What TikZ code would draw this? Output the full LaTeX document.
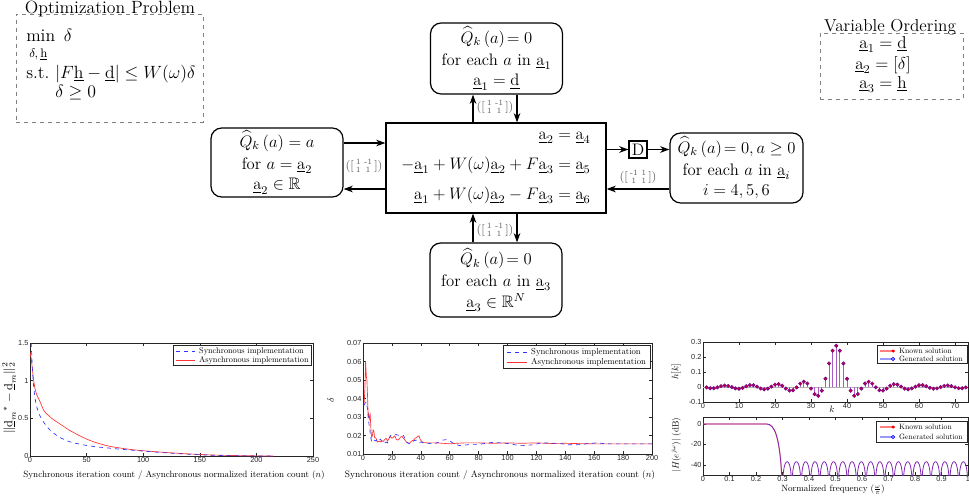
\RequirePackage{fix-cm}
\documentclass[tikz,border=0pt]{standalone}
\usepackage{amsmath,amssymb}
\usepackage{fontspec}
\newfontfamily\ticksf{Liberation Sans}
\usetikzlibrary{arrows.meta}
\definecolor{dgray}{gray}{0.15}
\definecolor{lblgray}{gray}{0.35}
\definecolor{sblue}{rgb}{0.2,0.2,1}
\definecolor{sred}{rgb}{1,0.2,0.2}
\definecolor{ppurple}{rgb}{0.5,0.15,0.7}
\definecolor{stemc}{rgb}{0.66,0.36,0.76}
\newcommand{\ua}[1]{\underline{\mathrm{a}}_{#1}}
\newcommand{\ud}{\underline{\mathrm{d}}}
\newcommand{\uh}{\underline{\mathrm{h}}}
\newcommand{\Qk}{\widehat{Q}_k\left(a\right)}
\newcommand{\mtx}[4]{$\left(\left[\begin{smallmatrix}#1&#2\\#3&#4\end{smallmatrix}\right]\right)$}
\newcommand{\mn}{\text{-}}
\begin{document}
\begin{tikzpicture}[x=0.75pt,y=-0.75pt,
  dfont/.style={font=\fontsize{12.5}{15.5}\selectfont},
  ofont/.style={font=\fontsize{13.3}{16}\selectfont},
  vfont/.style={font=\fontsize{12.9}{15.5}\selectfont},
  qbox/.style={draw,line width=0.9pt,rounded corners=8pt,align=center,dfont,inner sep=0pt},
  arr/.style={-{Stealth[length=7pt,width=5pt]},line width=0.9pt},
  mlab/.style={text=lblgray,font=\small,inner sep=0pt},
  dbox/.style={draw=gray,dashed,line width=0.6pt,inner sep=0pt},
  axc/.style={draw=dgray,line width=0.4pt},
  tick/.style={font=\ticksf\fontsize{5.5}{6}\selectfont,text=dgray,inner sep=1pt},
  ten/.style={font=\fontsize{10}{12}\selectfont,inner sep=0pt},
  leg/.style={ten,scale=0.62,anchor=west},
  leg2/.style={ten,scale=0.65,anchor=west},
  legs/.style={ten,scale=0.575,anchor=west},
  tl/.style={ofont,anchor=base west,inner sep=0pt},
]
\useasboundingbox (0,0) rectangle (969,496);

% ---------- Optimization problem ----------
\node[dbox,minimum width=140.25pt,minimum height=81pt] (optbox) at (109.5,68) {};
\node[ofont,anchor=base,inner sep=0pt] (optt) at (110,13.5) {Optimization Problem};
\node[tl] (omin) at (26,41) {$\min\ \delta$};
\node[anchor=base west,inner sep=0pt,font=\fontsize{9.3}{10}\selectfont] (osub) at (29,57) {$\delta,\uh$};
\node[tl] (ost) at (26,78) {s.t.\ $|F\uh-\ud|\le W(\omega)\delta$};
\node[tl] (opos) at (55,97) {$\delta\ge 0$};

% ---------- Variable ordering ----------
\node[dbox,minimum width=107.25pt,minimum height=49.5pt] (vobox) at (891.5,66) {};
\node[vfont,anchor=base,inner sep=0pt] (vot) at (890,31) {Variable Ordering};
\node[vfont,anchor=base,inner sep=0pt] (vo1) at (883,48) {$\ua{1}=\ud$};
\node[vfont,anchor=base,inner sep=0pt] (vo2) at (883,69) {$\ua{2}=[\delta]$};
\node[vfont,anchor=base,inner sep=0pt] (vo3) at (883,88) {$\ua{3}=\uh$};

% ---------- Boxes ----------
\node[qbox,minimum width=99pt,minimum height=53.25pt] (top) at (496.5,58.5)
  {$\Qk\!= 0$\\[1pt] for each $a$ in $\ua{1}$\\ $\ua{1}=\ud$};
\node[qbox,minimum width=99pt,minimum height=51.75pt] (left) at (277,162.5)
  {$\Qk=a$\\[1pt] for $a=\ua{2}$\\ $\ua{2}\in\mathbb{R}$};
\node[draw,line width=0.9pt,minimum width=165pt,minimum height=67.5pt,align=right,dfont,inner sep=0pt] (ctr) at (496,168)
  {$\ua{2}=\ua{4}$\\[7pt] $-\ua{1}+W(\omega)\ua{2}+F\ua{3}=\ua{5}$\\[7pt] $\ua{1}+W(\omega)\ua{2}-F\ua{3}=\ua{6}$};
\node[qbox,minimum width=99.75pt,minimum height=52.5pt] (right) at (736.5,168)
  {$\Qk\!= 0, a\ge 0$\\[1pt] for each $a$ in $\ua{i}$\\ $i=4,5,6$};
\node[qbox,minimum width=99pt,minimum height=55.5pt] (bot) at (496,280)
  {$\Qk\!= 0$\\[1pt] for each $a$ in $\ua{3}$\\ $\ua{3}\in\mathbb{R}^N$};
\node[draw,line width=0.8pt,minimum width=13.5pt,minimum height=12.75pt,inner sep=0pt,dfont] (D) at (638,149.5) {D};

% ---------- Connectors ----------
\coordinate (xL) at (473,0);
\coordinate (xR) at (517,0);
\coordinate (yT) at (0,143);
\coordinate (yB) at (0,189);
\coordinate (yD) at (0,149.5);
\draw[arr] (ctr.north -| xL) -- (top.south -| xL);
\draw[arr] (top.south -| xR) -- (ctr.north -| xR);
\draw[arr] (bot.north -| xL) -- (ctr.south -| xL);
\draw[arr] (ctr.south -| xR) -- (bot.north -| xR);
\draw[arr] (left.east |- yT) -- (ctr.west |- yT);
\draw[arr] (ctr.west |- yB) -- (left.east |- yB);
\draw[arr] (ctr.east |- yD) -- (D.west);
\draw[arr] (D.east) -- (right.west |- yD);
\draw[arr] (right.west |- yB) -- (ctr.east |- yB);

\node[mlab] (lbT) at (495,107) {\mtx{1}{\mn1}{1}{1}};
\node[mlab] (lbB) at (495,230) {\mtx{1}{\mn1}{1}{1}};
\node[mlab] (lbL) at (364,166) {\mtx{1}{\mn1}{1}{1}};
\node[mlab] (lbR) at (638,177) {\mtx{\mn1}{1}{1}{1}};

% ---------- Plot 1 ----------
\draw[axc] (30,343) rectangle (313,456);
\begin{scope}[shift={(30,456)},x=0.849pt,y=56.5pt]
  \foreach \t in {0,50,...,250}{\draw[axc] (\t,0) -- ++(0,2pt) (\t,1.5) -- ++(0,-2pt); \node[tick,below] at (\t,0) {\t};}
  \foreach \t in {0,0.5,1,1.5}{\draw[axc] (0,\t) -- ++(2pt,0) (250,\t) -- ++(-2pt,0); \node[tick,left] at (0,\t) {\t};}
  \begin{scope}
  \clip (0,0) rectangle (250,1.5);
  \draw[sred,line width=0.5pt] plot[smooth] coordinates {(0,1.38) (1,1.3) (2,1.17) (3,1.03) (4,0.93) (5,0.86) (6,0.81) (8,0.75) (10,0.68) (12,0.61) (14,0.57) (17,0.53) (20,0.49) (25,0.44) (30,0.39) (35,0.34) (40,0.3) (45,0.26) (50,0.225) (55,0.195) (60,0.17) (70,0.13) (80,0.105) (90,0.085) (100,0.07) (120,0.047) (140,0.028) (160,0.014) (180,0.006) (200,0.002) (215,0)};
  \draw[sblue,dashed,line width=0.5pt] plot[smooth] coordinates {(1,1.5) (1.5,1.35) (2,1.18) (3,0.96) (4,0.82) (5,0.72) (6,0.65) (8,0.56) (10,0.5) (12,0.45) (15,0.39) (18,0.34) (22,0.29) (26,0.25) (30,0.22) (35,0.19) (40,0.17) (50,0.14) (60,0.12) (70,0.105) (80,0.09) (100,0.065) (120,0.042) (140,0.024) (160,0.011) (180,0.004) (200,0.001) (215,0)};
  \end{scope}
\end{scope}
\draw[axc,fill=white] (173,345) rectangle (311,365);
\draw[sblue,dashed,line width=0.5pt] (176,351) -- (195,351);
\node[leg] (l1a) at (199,351) {Synchronous implementation};
\draw[sred,line width=0.5pt] (176,360) -- (195,360);
\node[leg] (l1b) at (199,360) {Asynchronous implementation};
\node[ten,scale=0.68] (x1) at (174,475) {Synchronous iteration count / Asynchronous normalized iteration count ($n$)};
\node[rotate=90,font=\fontsize{9}{10}\selectfont,inner sep=0pt] (y1) at (9,398) {$\|\ud_m{}^*-\ud_m\|_2^2$};

% ---------- Plot 2 ----------
\draw[axc] (363,343) rectangle (652,454);
\begin{scope}[shift={(363,472.5)},x=1.084pt,y=13.875pt]
  \foreach \t in {0,20,...,200}{\draw[axc] (\t,1) -- ++(0,2pt) (\t,7) -- ++(0,-2pt); \node[tick,below] at (\t,1) {\t};}
  \foreach \t in {1,...,7}{\draw[axc] (0,\t) -- ++(2pt,0) (200,\t) -- ++(-2pt,0); \node[tick,left] at (0,\t) {0.0\t};}
  \begin{scope}
  \clip (0,1) rectangle (200,7);
  \draw[sred,line width=0.5pt] (0.7,3.64) -- (1.3,4.5) -- (1.8,6.0) -- (2.3,5.2) -- (2.7,5.0) -- (3.2,4.0) -- (3.6,3.0) -- (4,3.15) -- (4.5,2.9) -- (5,3.1) -- (5.5,2.3) -- (6,1.9) -- (6.5,2.0) -- (7,2.3) -- (7.5,2.25) -- (8,1.9) -- (9,1.85) -- (10,1.65) -- (11,1.7) -- (12,1.65) -- (13,1.72) -- (14,1.68) -- (15,1.78) -- (16,1.85) -- (17,1.7) -- (18,1.85) -- (19,1.95) -- (20,1.85) -- (21,1.9) -- (22,1.98) -- (23,1.8) -- (24,1.75) -- (25,1.8) -- (26,1.92) -- (27,1.95) -- (28,1.85) -- (29,1.75) -- (30,1.65) -- (31,1.6) -- (32,1.58) -- (33,1.65) -- (34,1.72) -- (35,1.75) -- (36,1.85) -- (37,1.9) -- (38,1.95) -- (38.7,1.98) -- (39.5,1.8) -- (40.5,1.68) -- (42,1.62) -- (45,1.6) -- (50,1.6) -- (55,1.58) -- (60,1.55) -- (65,1.58) -- (70,1.6) -- (80,1.6) -- (90,1.58) -- (100,1.6) -- (110,1.58) -- (120,1.6) -- (130,1.57) -- (140,1.58) -- (150,1.56) -- (160,1.55) -- (200,1.55);
  \draw[sblue,dashed,line width=0.5pt] (0.7,3.64) -- (1.5,3.75) -- (2.3,3.82) -- (3,3.5) -- (4,2.7) -- (4.6,2.4) -- (5.3,1.9) -- (6.2,1.62) -- (7,1.7) -- (8,1.75) -- (9,1.7) -- (10,1.82) -- (11,1.75) -- (12,1.8) -- (13,1.68) -- (14,1.72) -- (15,1.6) -- (16,1.65) -- (17,1.6) -- (18,1.85) -- (19,2.0) -- (20,2.05) -- (22,2.08) -- (24,2.02) -- (26,2.0) -- (28,2.0) -- (29,1.85) -- (30,1.65) -- (32,1.55) -- (34,1.6) -- (35,1.72) -- (37,1.75) -- (38,1.65) -- (39,1.62) -- (40,1.65) -- (42,1.6) -- (45,1.58) -- (48,1.55) -- (50,1.58) -- (53,1.65) -- (55,1.75) -- (58,1.78) -- (60,1.72) -- (62,1.6) -- (65,1.5) -- (67,1.45) -- (70,1.48) -- (75,1.52) -- (80,1.52) -- (85,1.58) -- (90,1.63) -- (95,1.6) -- (100,1.57) -- (105,1.5) -- (110,1.45) -- (115,1.48) -- (118,1.5) -- (122,1.58) -- (128,1.6) -- (132,1.58) -- (138,1.55) -- (142,1.5) -- (148,1.5) -- (152,1.52) -- (156,1.57) -- (162,1.6) -- (166,1.57) -- (170,1.55) -- (200,1.55);
  \end{scope}
\end{scope}
\draw[axc,fill=white] (503,345) rectangle (650,368);
\draw[sblue,dashed,line width=0.5pt] (507,352) -- (527,352);
\node[leg2] (l2a) at (531,352) {Synchronous implementation};
\draw[sred,line width=0.5pt] (507,362) -- (527,362);
\node[leg2] (l2b) at (531,362) {Asynchronous implementation};
\node[ten,scale=0.70] (x2) at (500,475) {Synchronous iteration count / Asynchronous normalized iteration count ($n$)};
\node[ten,scale=0.7,rotate=90] (y2) at (331,400) {$\delta$};

% ---------- Plot 3 top ----------
\draw[axc] (703,342) rectangle (968,402);
\begin{scope}[shift={(703,387)},x=2.7pt,y=112.5pt]
  \foreach \t in {0,10,...,70}{\draw[axc] (\t,-0.1) -- ++(0,2pt) (\t,0.3) -- ++(0,-2pt); \node[tick,below] at (\t,-0.1) {\t};}
  \foreach \t in {-0.1,0,0.1,0.2,0.3}{\draw[axc] (0,\t) -- ++(2pt,0) (73.6,\t) -- ++(-2pt,0); \node[tick,left] at (0,\t) {\t};}
  \draw[gray!60,line width=0.4pt] (0,0) -- (73.6,0);
  \foreach \k in {1,...,73}{
    \ifnum\k=37 \def\hv{0.275}\else \pgfmathsetmacro\hv{sin(49.5*(\k-37))/(pi*(\k-37))}\fi
    \draw[stemc,line width=0.6pt] (\k,0) -- (\k,\hv);
    \fill[red!75!blue] (\k,\hv) circle[radius=1.35pt];
    \draw[blue!60!red,line width=0.3pt] (\k,\hv) circle[radius=1.35pt];
  }
\end{scope}
\draw[axc,fill=white] (877,345) rectangle (967,363);
\draw[red!50,line width=0.8pt] (880,351) -- (895,351);
\fill[red] (893,351) circle[radius=1.3pt];
\node[legs] (l3a) at (899,351) {Known solution};
\draw[blue!40,line width=0.8pt] (880,359) -- (895,359);
\draw[blue,line width=0.4pt] (893,359) circle[radius=1.3pt];
\node[legs] (l3b) at (899,359) {Generated solution};
\node[ten,scale=0.7,rotate=90] (y3) at (676,372) {$h[k]$};
\node[ten,scale=0.7] (x3) at (832,409) {$k$};

% ---------- Plot 3 bottom ----------
\draw[axc] (703,417) rectangle (968,475);
\begin{scope}[shift={(703,424)},x=198.75pt,y=0.765pt]
  \foreach \t in {0,0.1,0.2,0.3,0.4,0.5,0.6,0.7,0.8,0.9,1}{\draw[axc] (\t,-50) -- ++(0,2pt) (\t,6.9) -- ++(0,-2pt); \node[tick,below] at (\t,-50) {\t};}
  \foreach \t in {0,-20,-40}{\draw[axc] (0,\t) -- ++(2pt,0) (1,\t) -- ++(-2pt,0); \node[tick,left] at (0,\t) {\t};}
  \begin{scope}
  \clip (0,-50) rectangle (1,6.9);
  \draw[red!70,line width=0.9pt,opacity=0.6] (0,0) -- (0.24,0) .. controls (0.27,0) and (0.29,-12) .. (0.298,-55);
  \draw[ppurple,line width=0.6pt] (0,0) -- (0.24,0) .. controls (0.27,0) and (0.29,-12) .. (0.298,-55);
  \draw[ppurple,line width=0.6pt] plot[domain=0.3:1,samples=701] (\x,{-37+20*log10(max(abs(sin(180*(\x-0.3)/0.035)),0.2))});
  \end{scope}
\end{scope}
\draw[axc,fill=white] (876,421) rectangle (967,442);
\draw[red!50,line width=0.8pt] (880,427) -- (895,427);
\fill[red] (893,427) circle[radius=1.3pt];
\node[legs] (l4a) at (899,427) {Known solution};
\draw[blue!40,line width=0.8pt] (880,437) -- (895,437);
\draw[blue,line width=0.4pt] (893,437) circle[radius=1.3pt];
\node[legs] (l4b) at (899,437) {Generated solution};
\node[ten,scale=0.68,rotate=90] (y4) at (676,445) {$|H(e^{j\omega})|$ (dB)};
\node[ten,scale=0.68] (x4) at (833,490) {Normalized frequency ($\frac{\omega}{\pi}$)};
\end{tikzpicture}
\end{document}
